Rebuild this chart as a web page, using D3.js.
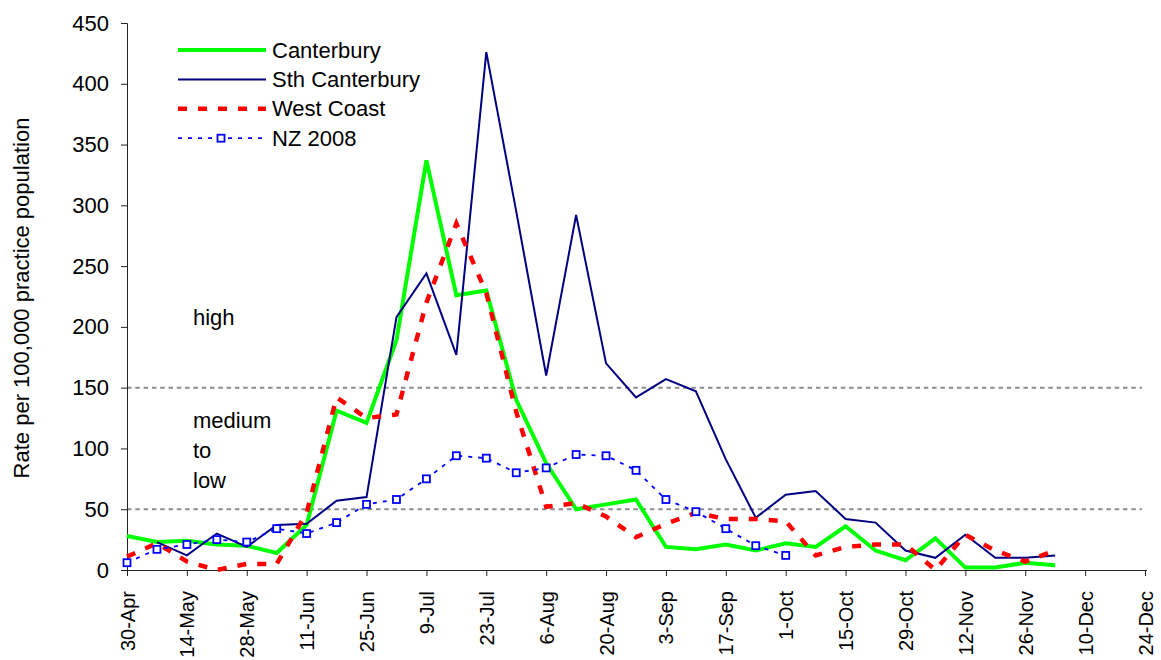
<!DOCTYPE html>
<html>
<head>
<meta charset="utf-8">
<script src="https://cdn.jsdelivr.net/npm/d3@7"></script>
<style>
  body { margin: 0; background: #fff; }
  text { font-family: "Liberation Sans", Arial, sans-serif; fill: #000; }
</style>
</head>
<body>
<svg id="chart" width="1161" height="660"></svg>
<script>
// weekly categories (2009)
const weeks = ["30-Apr","7-May","14-May","21-May","28-May","4-Jun","11-Jun","18-Jun","25-Jun",
  "2-Jul","9-Jul","16-Jul","23-Jul","30-Jul","6-Aug","13-Aug","20-Aug","27-Aug","3-Sep",
  "10-Sep","17-Sep","24-Sep","1-Oct","8-Oct","15-Oct","22-Oct","29-Oct","5-Nov","12-Nov",
  "19-Nov","26-Nov","3-Dec","10-Dec","17-Dec","24-Dec"]

const tickLabels = ["30-Apr","14-May","28-May","11-Jun","25-Jun","9-Jul","23-Jul","6-Aug","20-Aug",
  "3-Sep","17-Sep","1-Oct","15-Oct","29-Oct","12-Nov","26-Nov","10-Dec","24-Dec"]

const yTicks = [0, 50, 100, 150, 200, 250, 300, 350, 400, 450]
const thresholds = [150, 50]

const canterbury = [28, 23, 24, 21, 20, 14, 37, 131, 121, 189, 337, 226, 230, 140, 88, 50,
  54, 58, 19, 17, 21, 16, 22, 19, 36, 16, 8, 26, 2, 2, 6, 4]
const sthCanterbury = [null, 23, 12, 30, 19, 37, 38, 57, 60, 208, 244, 177, 426, 295, 160, 292,
  170, 142, 157, 147, 91, 43, 62, 65, 42, 39, 16, 10, 29, 10, 10, 12]
const westCoast = [11, 22, 7, 0, 5, 5, 47, 142, 125, 128, 220, 285, 228, 130, 52, 55,
  44, 27, 38, 47, 42, 42, 40, 12, 19, 21, 21, 0, 29, 16, 7, 16]
const nz2008 = [6, 17, 21, 25, 23, 34, 30, 39, 54, 58, 75, 94, 92, 80, 84, 95,
  94, 82, 58, 48, 34, 20, 12]

const series = [
  { name: "Canterbury", values: canterbury, color: "#00ff00", width: 4, dash: null },
  { name: "Sth Canterbury", values: sthCanterbury, color: "#000080", width: 2, dash: null },
  { name: "West Coast", values: westCoast, color: "#ff0000", width: 4.5, dash: "9,11" },
  { name: "NZ 2008", values: nz2008, color: "#0000ff", width: 1.8, dash: "4,6", marker: true }
]

const svg = d3.select("#chart")
const X0 = 127, X1 = 1145, Y0 = 570, Y1 = 23

const x = d3.scalePoint().domain(weeks).range([X0, X1])
const y = d3.scaleLinear().domain([0, 450]).range([Y0, Y1])

// threshold guide lines
svg.append("g").selectAll("line").data(thresholds).join("line")
  .attr("x1", X0).attr("x2", 1142)
  .attr("y1", d => y(d)).attr("y2", d => y(d))
  .attr("stroke", "#8c8c8c").attr("stroke-width", 2)
  .attr("stroke-dasharray", "4.5,3.8")

// axes
const yAxis = svg.append("g")
  .attr("transform", `translate(${X0},0)`)
  .call(d3.axisLeft(y).tickValues(yTicks).tickSize(6).tickPadding(12))
yAxis.select(".domain").attr("stroke", "#222")
yAxis.selectAll(".tick line").attr("stroke", "#222")
yAxis.selectAll(".tick text").attr("font-size", 22).attr("fill", "#000")
  .attr("font-family", "Liberation Sans, Arial, sans-serif")

const xAxis = svg.append("g")
  .attr("transform", `translate(0,${Y0})`)
  .call(d3.axisBottom(x).tickValues(tickLabels).tickSize(6).tickSizeOuter(0))
xAxis.select(".domain").attr("stroke", "#222").attr("d", `M${X0},0.5H1147`)
xAxis.selectAll(".tick line").attr("stroke", "#222")
xAxis.selectAll(".tick text")
  .attr("font-size", 20).attr("fill", "#000")
  .attr("font-family", "Liberation Sans, Arial, sans-serif")
  .attr("text-anchor", "end")
  .attr("transform", "rotate(-90)")
  .attr("x", -21).attr("y", 0).attr("dy", "0.35em")

// y axis title
svg.append("text")
  .attr("transform", `translate(29,298) rotate(-90)`)
  .attr("text-anchor", "middle")
  .attr("font-size", 22)
  .text("Rate per 100,000 practice population")

// zone annotations
const zoneText = svg.append("g").attr("font-size", 22)
zoneText.append("text").attr("x", 193).attr("y", 325).text("high")
zoneText.append("text").attr("x", 193).attr("y", 428).text("medium")
zoneText.append("text").attr("x", 193).attr("y", 458).text("to")
zoneText.append("text").attr("x", 193).attr("y", 488).text("low")

// series lines
const line = d3.line()
  .defined(d => d.v != null)
  .x(d => x(d.w))
  .y(d => y(d.v))

series.forEach(s => {
  const pts = s.values.map((v, i) => ({ w: weeks[i], v }))
  svg.append("path")
    .datum(pts)
    .attr("fill", "none")
    .attr("stroke", s.color)
    .attr("stroke-width", s.width)
    .attr("stroke-linejoin", "miter")
    .attr("stroke-dasharray", s.dash)
    .attr("d", line)
  if (s.marker) {
    svg.append("g").selectAll("rect").data(pts.filter(d => d.v != null)).join("rect")
      .attr("x", d => x(d.w) - 3.5).attr("y", d => y(d.v) - 3.5)
      .attr("width", 7).attr("height", 7)
      .attr("fill", "#fff").attr("stroke", s.color).attr("stroke-width", 1.8)
  }
})

// legend
const lg = svg.append("g")
series.forEach((s, i) => {
  const ly = 50 + i * 29.4
  lg.append("line")
    .attr("x1", 178).attr("x2", 266).attr("y1", ly).attr("y2", ly)
    .attr("stroke", s.color).attr("stroke-width", s.width)
    .attr("stroke-dasharray", s.dash)
  if (s.marker) {
    lg.append("rect").attr("x", 221 - 3.5).attr("y", ly - 3.5)
      .attr("width", 7).attr("height", 7)
      .attr("fill", "#fff").attr("stroke", s.color).attr("stroke-width", 1.8)
  }
  lg.append("text").attr("x", 272).attr("y", ly + 7.5)
    .attr("font-size", 22).text(s.name)
})
</script>
</body>
</html>
